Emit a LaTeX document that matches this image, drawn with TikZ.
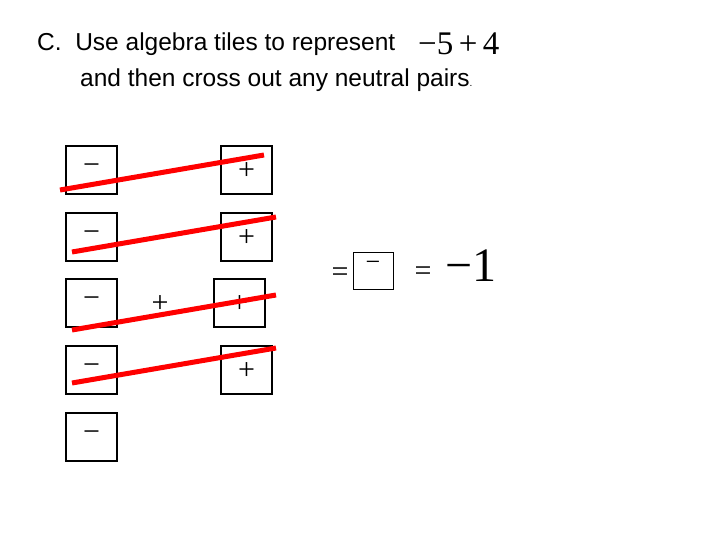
\documentclass[tikz,border=0pt]{standalone}
\usepackage{fontspec}
\setmainfont{Liberation Sans}
\newfontfamily\tms{Liberation Serif}
\begin{document}
\begin{tikzpicture}[x=1pt,y=-1pt,
  sgn/.style={font=\tms\fontsize{30}{30}\selectfont,inner sep=0pt},
  cross/.style={draw=red,line width=5pt},
  txt/.style={font=\fontsize{24.5}{28}\selectfont,anchor=west,inner sep=0pt}]
\useasboundingbox (0,0) rectangle (720,540);
\node[txt] (t1) at (37,44) {C.\ \ Use algebra tiles to represent};
\node[anchor=west,inner sep=0pt,font=\tms\fontsize{33}{33}\selectfont] (ex) at (418,44) {−5\,+\,4};
\node[txt] (t2) at (80,80) {and then cross out any neutral pairs\rlap{\fontsize{10}{10}\selectfont.}};
\foreach \i/\y in {1/146,2/213,3/279,4/346,5/413}{
  \draw[line width=1.2pt] (66,\y) rectangle (117,\y+48);
  \node[sgn] (m\i) at (91.5,\y+23) {−};
}
\foreach \i/\x/\y in {1/221/146,2/221/213,3/214/279,4/221/346}{
  \draw[line width=1.2pt] (\x,\y) rectangle (\x+51,\y+48);
  \node[sgn] (p\i) at (\x+25.5,\y+25) {+};
}
\node[sgn] (pm) at (160,304) {+};
\coordinate (a1) at (60,190); \coordinate (b1) at (264,155);
\coordinate (a2) at (72,252); \coordinate (b2) at (276,217);
\coordinate (a3) at (72,330); \coordinate (b3) at (276,295);
\coordinate (a4) at (72,383); \coordinate (b4) at (276,348);
\foreach \i in {1,...,4}{\draw[cross] (a\i) -- (b\i);}
\node[sgn] (e1) at (340,275) {=};
\draw[line width=0.8pt] (353,252) rectangle (393,289);
\node[font=\tms\fontsize{26}{26}\selectfont,inner sep=0pt] (rm) at (373,266) {−};
\node[sgn] (e2) at (423,274) {=};
\node[font=\tms\fontsize{48}{48}\selectfont,inner sep=0pt] (res) at (471,266) {−1};
\end{tikzpicture}
\end{document}
